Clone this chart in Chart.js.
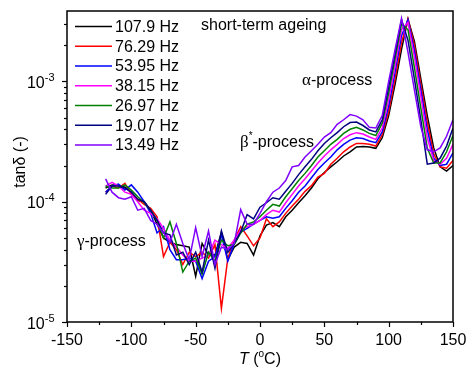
<!DOCTYPE html>
<html>
<head>
<meta charset="utf-8">
<script src="https://cdn.jsdelivr.net/npm/chart.js@4/dist/chart.umd.min.js"></script>
<style>
html,body{margin:0;padding:0;background:#fff;}
canvas{display:block;}
</style>
</head>
<body>
<canvas id="c" width="470" height="370"></canvas>
<script>
// ---- data ----
const temperatures = [-120,-115,-110,-105,-100,-95,-90,-85,-80,-75,-70,-65,-60,-55,-50,-45,-40,-35,-30,-25,-20,-15,-10,-5,
  0,5,10,15,20,25,30,35,40,45,50,55,60,65,70,75,80,85,90,
  95,100,105,110,115,120,125,130,135,140,145,150];

const seriesLabels = ['107.9 Hz','76.29 Hz','53.95 Hz','38.15 Hz','26.97 Hz','19.07 Hz','13.49 Hz'];

const tan107_9 = [1.3e-4,1.38e-4,1.38e-4,1.32e-4,1.2e-4,1.02e-4,1.0e-4,8.5e-5,6.5e-5,5.0e-5,4.6e-5,4.4e-5,4.3e-5,4.2e-5,2.4e-5,4.5e-5,3.6e-5,3.6e-5,5.6e-5,3.3e-5,4.2e-5,4.6e-5,4.5e-5,3.6e-5,
  5.2e-5,6.4e-5,6.7e-5,6.2e-5,7.5e-5,8.5e-5,9.8e-5,1.12e-4,1.3e-4,1.55e-4,1.75e-4,1.95e-4,2.15e-4,2.4e-4,2.6e-4,2.85e-4,2.88e-4,2.85e-4,2.78e-4,
  3.4e-4,5.2e-4,9.5e-4,1.85e-3,3.3e-3,2.15e-3,1.05e-3,5.2e-4,2.8e-4,1.95e-4,1.8e-4,2.0e-4];
const tan76_29 = [1.2e-4,1.35e-4,1.3e-4,1.42e-4,1.15e-4,1.05e-4,9.5e-5,8.8e-5,7.5e-5,3.5e-5,4.6e-5,4.0e-5,3.0e-5,3.8e-5,3.5e-5,3.8e-5,3.4e-5,4.4e-5,1.3e-5,3.4e-5,4.8e-5,6.2e-5,5.2e-5,4.3e-5,
  5.0e-5,7.2e-5,6.2e-5,6.8e-5,8.0e-5,9.2e-5,1.05e-4,1.22e-4,1.36e-4,1.6e-4,1.72e-4,2.05e-4,2.3e-4,2.6e-4,2.85e-4,3.05e-4,3.05e-4,3.0e-4,2.9e-4,
  3.6e-4,5.6e-4,1.05e-3,2.1e-3,3.3e-3,2.0e-3,9.5e-4,4.6e-4,2.5e-4,1.95e-4,1.9e-4,2.2e-4];
const tan53_95 = [1.2e-4,1.35e-4,1.4e-4,1.25e-4,1.38e-4,1.2e-4,1.0e-4,8.0e-5,5.5e-5,6.2e-5,4.0e-5,3.3e-5,3.3e-5,3.4e-5,3.2e-5,2.3e-5,3.2e-5,3.5e-5,5.3e-5,3.2e-5,4.5e-5,5.6e-5,6.0e-5,6.5e-5,
  7.0e-5,7.5e-5,7.3e-5,7.5e-5,8.8e-5,1.02e-4,1.2e-4,1.35e-4,1.58e-4,1.85e-4,2.1e-4,2.35e-4,2.7e-4,3.0e-4,3.25e-4,3.4e-4,3.35e-4,3.2e-4,3.1e-4,
  3.8e-4,6.2e-4,1.2e-3,2.4e-3,3.25e-3,1.8e-3,8.5e-4,4.0e-4,2.3e-4,2.0e-4,2.05e-4,2.55e-4];
const tan38_15 = [1.35e-4,1.45e-4,1.35e-4,1.2e-4,1.15e-4,1.0e-4,8.5e-5,8.0e-5,7.2e-5,6.0e-5,4.8e-5,4.2e-5,3.6e-5,3.2e-5,3.2e-5,3.4e-5,3.6e-5,4.8e-5,4.4e-5,4.1e-5,4.8e-5,5.8e-5,6.2e-5,6.5e-5,
  7.0e-5,7.8e-5,8.5e-5,8.2e-5,9.8e-5,1.15e-4,1.35e-4,1.55e-4,1.8e-4,2.1e-4,2.4e-4,2.7e-4,3.0e-4,3.35e-4,3.6e-4,3.75e-4,3.65e-4,3.45e-4,3.3e-4,
  4.1e-4,7.0e-4,1.35e-3,2.7e-3,3.1e-3,1.6e-3,7.5e-4,3.4e-4,2.2e-4,2.05e-4,2.3e-4,3.0e-4];
const tan26_97 = [1.35e-4,1.3e-4,1.3e-4,1.38e-4,1.25e-4,1.1e-4,9.8e-5,8.5e-5,7.0e-5,5.0e-5,6.8e-5,4.5e-5,2.6e-5,3.2e-5,3.4e-5,2.5e-5,3.8e-5,3.2e-5,4.8e-5,4.3e-5,4.4e-5,5.5e-5,6.5e-5,6.8e-5,
  7.5e-5,8.5e-5,9.5e-5,9.2e-5,1.1e-4,1.28e-4,1.5e-4,1.72e-4,2.0e-4,2.35e-4,2.65e-4,3.0e-4,3.3e-4,3.7e-4,4.0e-4,4.15e-4,3.95e-4,3.7e-4,3.55e-4,
  4.5e-4,8.0e-4,1.55e-3,3.0e-3,2.7e-3,1.3e-3,6.0e-4,2.8e-4,2.1e-4,2.1e-4,2.6e-4,3.55e-4];
const tan19_07 = [1.15e-4,1.35e-4,1.35e-4,1.3e-4,1.2e-4,1.05e-4,1.0e-4,8.5e-5,7.0e-5,5.5e-5,5.3e-5,3.6e-5,3.8e-5,3.0e-5,3.8e-5,2.6e-5,4.8e-5,2.8e-5,5.7e-5,3.8e-5,4.5e-5,5.6e-5,7.8e-5,7.2e-5,
  9.0e-5,9.8e-5,1.08e-4,1.05e-4,1.22e-4,1.42e-4,1.68e-4,1.95e-4,2.25e-4,2.65e-4,3.05e-4,3.4e-4,3.75e-4,4.2e-4,4.55e-4,4.6e-4,4.3e-4,3.95e-4,3.8e-4,
  4.8e-4,9.0e-4,1.7e-3,3.25e-3,2.2e-3,1.05e-3,4.8e-4,2.05e-4,2.1e-4,2.3e-4,2.9e-4,4.1e-4];
const tan13_49 = [1.55e-4,1.2e-4,1.08e-4,1.05e-4,1.1e-4,8.5e-5,8.8e-5,7.0e-5,6.5e-5,5.5e-5,4.6e-5,6.5e-5,4.5e-5,3.3e-5,6.1e-5,3.5e-5,5.7e-5,3.0e-5,4.2e-5,4.0e-5,4.5e-5,8.6e-5,6.5e-5,6.5e-5,
  8.0e-5,1.0e-4,1.2e-4,1.3e-4,1.5e-4,1.95e-4,2.0e-4,2.35e-4,2.65e-4,3.0e-4,3.45e-4,3.75e-4,4.4e-4,4.8e-4,5.3e-4,5.15e-4,4.8e-4,4.15e-4,4.1e-4,
  5.2e-4,1.0e-3,1.85e-3,3.35e-3,1.75e-3,8.5e-4,4.2e-4,2.7e-4,2.6e-4,2.8e-4,3.5e-4,4.8e-4];

const xTickValues = [-150,-100,-50,0,50,100,150];
const yTickExponents = [-5,-4,-3];

// ---- styles ----
const seriesColors = ['#000000','#ff0000','#0000ff','#ff00ff','#008000','#000080','#8000ff'];
const allSeries = [tan107_9,tan76_29,tan53_95,tan38_15,tan26_97,tan19_07,tan13_49];

const datasets = allSeries.map((vals,i)=>({
  label: seriesLabels[i],
  data: temperatures.map((t,j)=>({x:t,y:vals[j]})),
  borderColor: seriesColors[i],
  backgroundColor: seriesColors[i],
  borderWidth: 1.5,
  pointRadius: 0,
  tension: 0,
  fill: false,
  order: allSeries.length - i
}));

const SANS = '"Liberation Sans", Arial, sans-serif';
const SERIF = '"Liberation Serif", "Times New Roman", serif';

const decorations = {
  id: 'decorations',
  afterDraw(chart) {
    const ctx = chart.ctx, a = chart.chartArea;
    const xs = chart.scales.x, ys = chart.scales.y;
    ctx.save();
    ctx.strokeStyle = '#000'; ctx.fillStyle = '#000';
    ctx.lineWidth = 1.5;
    ctx.strokeRect(a.left, a.top, a.right - a.left, a.bottom - a.top);
    // x ticks
    ctx.lineWidth = 1.2;
    for (let v = xs.min; v <= xs.max; v += 25) {
      const px = Math.round(xs.getPixelForValue(v)) + 0.5;
      const len = (v % 50 === 0) ? 5 : 3;
      ctx.beginPath(); ctx.moveTo(px, a.bottom); ctx.lineTo(px, a.bottom + len); ctx.stroke();
    }
    ctx.font = '16px ' + SANS; ctx.textAlign = 'center'; ctx.textBaseline = 'alphabetic';
    xTickValues.forEach(v => ctx.fillText(String(v), xs.getPixelForValue(v), 345));
    // y ticks
    for (let e = -5; e <= -2; e++) {
      for (let k = 1; k <= 9; k++) {
        const v = k * Math.pow(10, e);
        if (v < ys.min * 0.999 || v > ys.max) continue;
        const py = Math.round(ys.getPixelForValue(v)) + 0.5;
        const len = k === 1 ? 5 : 3;
        ctx.beginPath(); ctx.moveTo(a.left - len, py); ctx.lineTo(a.left, py); ctx.stroke();
      }
    }
    // y labels
    yTickExponents.forEach(e => {
      const py = ys.getPixelForValue(Math.pow(10, e));
      const exp = String(e);
      ctx.textAlign = 'left';
      ctx.font = '11px ' + SANS; const ew = ctx.measureText(exp).width;
      ctx.font = '16px ' + SANS; const tw = ctx.measureText('10').width;
      const right = 54.5;
      ctx.fillText('10', right - ew - tw, py + 6.5);
      ctx.font = '11px ' + SANS;
      ctx.fillText(exp, right - ew, py - 0.5);
    });
    // axis titles
    ctx.font = '16px ' + SANS;
    ctx.save();
    ctx.translate(24.5, 162);
    ctx.rotate(-Math.PI / 2);
    ctx.textAlign = 'center';
    ctx.fillText('tanδ (-)', 0, 0);
    ctx.restore();
    // x title: T (°C)
    {
      const parts = [
        {t:'T', f:'italic 16px ' + SANS, dy:0},
        {t:' (', f:'16px ' + SANS, dy:0},
        {t:'o', f:'10px ' + SANS, dy:-7},
        {t:'C)', f:'16px ' + SANS, dy:0}
      ];
      let w = 0;
      parts.forEach(p => { ctx.font = p.f; p.w = ctx.measureText(p.t).width; w += p.w; });
      let x = xs.getPixelForValue(0) - w / 2;
      ctx.textAlign = 'left';
      parts.forEach(p => { ctx.font = p.f; ctx.fillText(p.t, x, 364 + p.dy); x += p.w; });
    }
    // legend
    ctx.textAlign = 'left'; ctx.textBaseline = 'middle';
    seriesLabels.forEach((lab, i) => {
      const y = 26.5 + i * 19.75;
      ctx.strokeStyle = seriesColors[i]; ctx.lineWidth = 1.5;
      ctx.beginPath(); ctx.moveTo(75, y); ctx.lineTo(112, y); ctx.stroke();
      ctx.fillStyle = '#000'; ctx.font = '16px ' + SANS;
      ctx.fillText(lab, 115, y + 1);
    });
    // annotations
    ctx.textBaseline = 'alphabetic';
    ctx.fillStyle = '#000';
    function seq(x, y, parts) {
      parts.forEach(p => { ctx.font = p.f; ctx.fillText(p.t, x, y + (p.dy || 0)); x += ctx.measureText(p.t).width; });
    }
    seq(201, 30, [{t:'short-term ageing', f:'16px ' + SANS}]);
    seq(302, 85, [{t:'α', f:'17px ' + SERIF}, {t:'-process', f:'16px ' + SANS}]);
    seq(240, 147, [{t:'β', f:'17px ' + SERIF}, {t:'*', f:'10px ' + SANS, dy:-8}, {t:'-process', f:'16px ' + SANS}]);
    seq(77, 246, [{t:'γ', f:'17px ' + SERIF}, {t:'-process', f:'16px ' + SANS}]);
    ctx.restore();
  }
};

new Chart(document.getElementById('c'), {
  type: 'line',
  data: { datasets },
  options: {
    responsive: false,
    devicePixelRatio: 1,
    animation: false,
    layout: { padding: { top: 11, right: 17, left: 0, bottom: 0 } },
    plugins: { legend: { display: false }, tooltip: { enabled: false } },
    scales: {
      x: {
        type: 'linear', min: -150, max: 150,
        ticks: { display: false }, grid: { display: false }, border: { display: false },
        afterFit(s) { s.height = 48; }
      },
      y: {
        type: 'logarithmic', min: 1e-5, max: 3.85e-3,
        ticks: { display: false }, grid: { display: false }, border: { display: false },
        afterFit(s) { s.width = 67; }
      }
    }
  },
  plugins: [decorations]
});
</script>
</body>
</html>
